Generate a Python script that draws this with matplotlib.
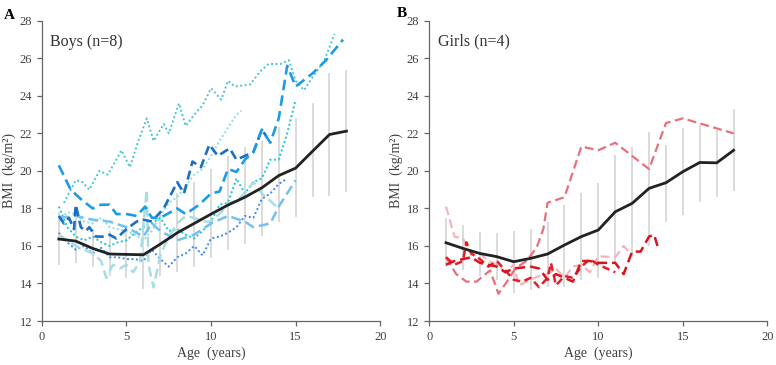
import numpy as np
import matplotlib
matplotlib.use("Agg")
import matplotlib.pyplot as plt

plt.rcParams['font.family'] = ['Liberation Serif', 'DejaVu Serif']

ages = np.arange(1, 19)

# Boys: mean BMI and error bar ends
boys_mean = [16.37, 16.26, 15.87, 15.57, 15.55, 15.53, 16.1, 16.7, 17.2, 17.7,
             18.18, 18.6, 19.1, 19.75, 20.15, 21.05, 21.94, 22.12]
boys_low = [14.98, 15.07, 14.9, 14.4, 14.27, 13.7, 14.4, 14.63, 14.9, 15.34,
            15.78, 16.13, 16.54, 17.29, 17.56, 18.62, 18.66, 18.89]
boys_high = [17.8, 17.5, 16.9, 16.8, 16.9, 17.4, 17.7, 18.8, 19.4, 20.1,
             20.8, 21.3, 21.6, 22.35, 22.8, 23.6, 25.2, 25.37]

# Girls: mean BMI and error bar ends
girls_mean = [16.17, 15.87, 15.6, 15.43, 15.16, 15.34, 15.57, 16.05, 16.5, 16.85,
              17.82, 18.27, 19.07, 19.37, 19.96, 20.45, 20.43, 21.1]
girls_low = [14.9, 14.7, 14.4, 14.2, 13.5, 13.65, 13.8, 13.8, 14.2, 14.3,
             15.1, 15.4, 16.0, 17.29, 17.64, 18.35, 18.62, 18.94]
girls_high = [17.5, 17.1, 16.75, 16.67, 16.8, 16.93, 17.3, 18.2, 18.8, 19.33,
              20.85, 21.3, 22.1, 21.38, 22.27, 22.44, 22.2, 23.3]

# Boys individual curves
b1_age = [1.3, 2.0, 2.4, 2.8, 3.4, 3.9, 4.4, 4.7, 5.2, 5.7, 6.2, 6.6, 7.2, 7.5, 8.1, 8.5,
          9.1, 9.5, 10.0, 10.6, 11.0, 11.4, 12.3, 12.9, 13.4, 14.1, 14.6, 15.0, 15.5,
          16.0, 16.7, 17.3]
b1_bmi = [18.3, 19.5, 19.4, 19.0, 20.0, 19.8, 20.6, 21.1, 20.2, 21.6, 22.8, 21.6, 22.5,
          22.0, 23.6, 22.4, 23.1, 23.5, 24.4, 23.8, 24.8, 24.5, 24.6, 25.3, 25.7, 25.7,
          25.9, 24.8, 24.3, 25.0, 25.9, 27.3]
b2_age = [1.0, 1.7, 2.3, 3.0, 3.5, 4.0, 4.4, 5.0, 5.6, 6.1, 6.5, 7.0, 8.0, 8.5, 9.3, 10.0,
          10.5, 11.0, 11.5, 12.0, 12.5, 13.0, 13.5, 14.0, 14.5, 15.0, 16.0, 16.8, 17.8]
b2_bmi = [20.3, 19.0, 18.5, 18.0, 18.2, 18.2, 17.7, 17.7, 17.6, 18.1, 17.5, 17.5, 18.0,
          17.7, 18.2, 18.8, 18.9, 20.1, 19.95, 20.6, 21.0, 22.2, 21.5, 22.8, 25.6, 24.5,
          25.2, 25.9, 27.0]
b3_age = [1.0, 1.3, 1.6, 1.9, 2.0, 2.3, 2.6, 2.8, 3.2, 3.6, 4.0, 4.4, 5.0, 5.6, 6.0, 6.5,
          7.2, 8.0, 8.4, 8.9, 9.4, 9.9, 10.4, 11.1, 11.5, 12.0, 12.5, 13.0, 13.3]
b3_bmi = [17.6, 17.2, 17.5, 16.9, 18.2, 17.0, 16.8, 17.0, 16.5, 16.5, 16.6, 16.4, 16.9,
          17.3, 17.4, 17.3, 18.0, 19.4, 18.8, 20.5, 20.2, 21.4, 20.8, 21.2, 20.6, 20.8,
          21.0, 22.2, 21.8]
b4_age = [1, 2, 3, 4, 5, 6, 6.5, 7, 8, 9, 10, 11, 12, 12.5, 13, 13.5, 14, 15]
b4_bmi = [17.5, 17.6, 17.4, 17.3, 17.0, 16.5, 17.2, 16.8, 16.3, 16.6, 17.2, 17.6, 17.3,
          17.0, 17.1, 17.2, 18.1, 19.5]
b5_age = [1, 1.5, 2, 2.5, 3, 3.5, 3.8, 4.2, 4.6, 5.0, 5.4, 5.8, 6.2, 6.3, 6.6, 7.0, 7.5,
          8.0, 8.5, 9.0, 9.5, 10, 10.6, 11, 11.5, 12, 12.5, 13, 13.5, 14]
b5_bmi = [16.6, 16.3, 16.0, 15.8, 15.6, 15.2, 14.3, 15.0, 14.8, 15.0, 14.6, 15.2, 19.0,
          15.0, 13.8, 15.5, 16.5, 17.2, 17.6, 17.5, 17.3, 17.3, 17.8, 18.3, 18.4, 18.8,
          19.4, 18.8, 18.4, 18.0]
b6_age = [1, 1.5, 2, 2.5, 3, 3.5, 4, 4.5, 5, 5.5, 6, 6.5, 7, 7.5, 8, 8.5, 9, 9.5, 10,
          10.5, 11, 11.5, 12, 12.5, 13, 13.5, 14, 14.5, 15]
b6_bmi = [18.1, 17.0, 16.5, 16.3, 16.5, 16.2, 16.0, 16.2, 16.3, 16.7, 17.0, 17.2, 17.5,
          16.8, 16.9, 16.6, 16.4, 16.8, 17.3, 18.2, 18.3, 19.6, 18.8, 19.4, 19.6, 20.6,
          20.6, 22.0, 23.8]
b7_age = [1, 1.5, 2, 2.5, 3, 3.5, 4, 4.5, 5, 5.5, 6, 6.5, 7, 7.5, 8, 8.5, 9, 9.5, 10,
          10.5, 11, 11.5, 12, 12.5, 13, 13.5, 14, 14.5]
b7_bmi = [16.7, 16.2, 15.8, 16.0, 15.6, 15.9, 15.4, 15.4, 15.3, 15.3, 15.2, 15.8, 15.3,
          14.9, 15.4, 15.6, 16.0, 15.5, 16.4, 16.5, 16.7, 17.0, 17.6, 17.5, 18.5, 18.8,
          19.3, 19.6]
b8_age = [1, 1.5, 2, 2.5, 3, 3.5, 4, 4.5, 5, 5.5, 6, 6.5, 7, 7.5, 8, 8.5, 9, 9.5, 10,
          10.5, 11, 11.5, 11.8]
b8_bmi = [17.3, 17.8, 17.7, 17.3, 17.2, 17.5, 17.0, 16.9, 16.8, 16.6, 16.3, 16.8, 17.6,
          18.3, 18.6, 19.2, 19.8, 20.1, 20.8, 21.6, 22.3, 23.0, 23.2]

# Girls individual curves
g1_age = [1.0, 1.6, 2.2, 2.8, 3.6, 4.1, 4.6, 5.1, 5.75, 6.35, 6.75, 7.0, 8.0, 9.0, 10.0,
          11.0, 12.0, 13.0, 14.0, 15.0, 18.0]
g1_bmi = [15.4, 14.5, 14.1, 14.1, 14.7, 13.45, 14.1, 14.8, 15.2, 15.9, 16.9, 18.3, 18.6,
          21.3, 21.1, 21.5, 20.8, 20.1, 22.55, 22.8, 22.0]
g2_age = [1.0, 1.5, 2.0, 2.5, 3.0, 3.5, 4.0, 4.5, 5.0, 5.3, 6.0, 6.5, 7.0, 7.5, 8.0, 8.5,
          9.0, 9.5, 10.0, 11.0, 11.5, 11.9]
g2_bmi = [18.1, 16.5, 16.4, 15.5, 15.6, 15.2, 15.0, 14.6, 15.0, 13.9, 14.2, 14.4, 14.5,
          14.8, 14.3, 14.9, 15.0, 14.6, 15.45, 15.4, 16.0, 15.6]
g3_age = [1, 1.5, 2, 2.5, 3, 3.5, 4, 4.5, 5, 5.5, 6, 6.5, 7, 7.5, 8, 8.5, 9, 9.5, 10,
          10.5, 11, 11.5, 12, 12.5, 13, 13.3, 13.5]
g3_bmi = [15.0, 15.2, 15.3, 15.4, 15.1, 15.0, 14.9, 14.6, 14.8, 14.85, 14.9, 14.8, 14.2,
          14.5, 14.3, 14.1, 15.2, 15.2, 15.1, 15.1, 15.1, 14.5, 15.7, 15.7, 16.5, 16.6, 16.0]
g4_age = [1, 1.5, 2, 2.2, 2.5, 3, 3.5, 4, 4.5, 5, 5.5, 6, 6.5, 7, 7.2, 7.5, 8, 8.5, 9,
          9.5, 10, 10.5, 11]
g4_bmi = [15.4, 15.0, 15.2, 16.2, 15.6, 15.3, 14.9, 15.2, 14.7, 14.2, 14.1, 14.3, 13.8,
          14.3, 15.1, 13.9, 14.4, 14.3, 14.9, 15.3, 15.0, 14.8, 14.6]

boys_curves = [
    (b1_age, b1_bmi, '#45c6d2', (0, (1, 1.3)), 1.4),
    (b8_age, b8_bmi, '#8fdde3', (0, (1, 1.3)), 1.4),
    (b6_age, b6_bmi, '#1fc4d6', (0, (1, 1.3)), 1.4),
    (b7_age, b7_bmi, '#3a8cf0', (0, (1, 1.3)), 1.4),
    (b5_age, b5_bmi, '#a8dde3', (0, (4, 2)), 1.8),
    (b4_age, b4_bmi, '#74c0ef', (0, (4, 2)), 1.8),
    (b3_age, b3_bmi, '#1a6fc4', (0, (3.5, 1.8)), 1.9),
    (b2_age, b2_bmi, '#1e9be6', (0, (4, 2)), 1.9),
]

girls_curves = [
    (g2_age, g2_bmi, '#f5b4bc', (0, (4, 2)), 1.6),
    (g1_age, g1_bmi, '#e8707d', (0, (4, 2)), 1.6),
    (g4_age, g4_bmi, '#e31e26', (0, (3, 1.8)), 1.8),
    (g3_age, g3_bmi, '#d9141c', (0, (4, 2)), 1.8),
]

fig = plt.figure(figsize=(7.76, 3.65), dpi=100)
ax_a = fig.add_axes([0.054, 0.1205, 0.436, 0.8225])
ax_b = fig.add_axes([0.553, 0.1205, 0.436, 0.8225])


def draw_panel(ax, mean, low, high, curves, label):
    ax.vlines(ages, low, high, color='#d4d4d4', lw=1.2, zorder=1)
    for a, v, c, ls, lw in curves:
        ax.plot(a, v, color=c, ls=ls, lw=lw, zorder=2)
    ax.plot(ages, mean, color='#222222', lw=2.0, zorder=3)
    ax.set_xlim(0, 20)
    ax.set_ylim(12, 28)
    ax.set_xticks([0, 5, 10, 15, 20])
    ax.set_yticks(range(12, 29, 2))
    for s in ['top', 'right']:
        ax.spines[s].set_visible(False)
    for s in ['left', 'bottom']:
        ax.spines[s].set_color('#666666')
        ax.spines[s].set_linewidth(0.9)
    ax.tick_params(colors='#666666', labelcolor='#404040', labelsize=9, length=3.5,
                   width=0.9)
    ax.set_xlabel('Age  (years)', fontsize=10, color='#404040', labelpad=3)
    ax.set_ylabel('BMI  (kg/m²)', fontsize=10, color='#404040', labelpad=3)
    ax.text(0.025, 0.93, label, transform=ax.transAxes, fontsize=11.5,
            color='#333333', va='center', ha='left')


draw_panel(ax_a, boys_mean, boys_low, boys_high, boys_curves, 'Boys (n=8)')
draw_panel(ax_b, girls_mean, girls_low, girls_high, girls_curves, 'Girls (n=4)')

fig.text(0.005, 0.975, 'A', fontsize=11, fontweight='bold', va='top')
fig.text(0.511, 0.98, 'B', fontsize=11, fontweight='bold', va='top')

fig.savefig('out.png', dpi=100)
